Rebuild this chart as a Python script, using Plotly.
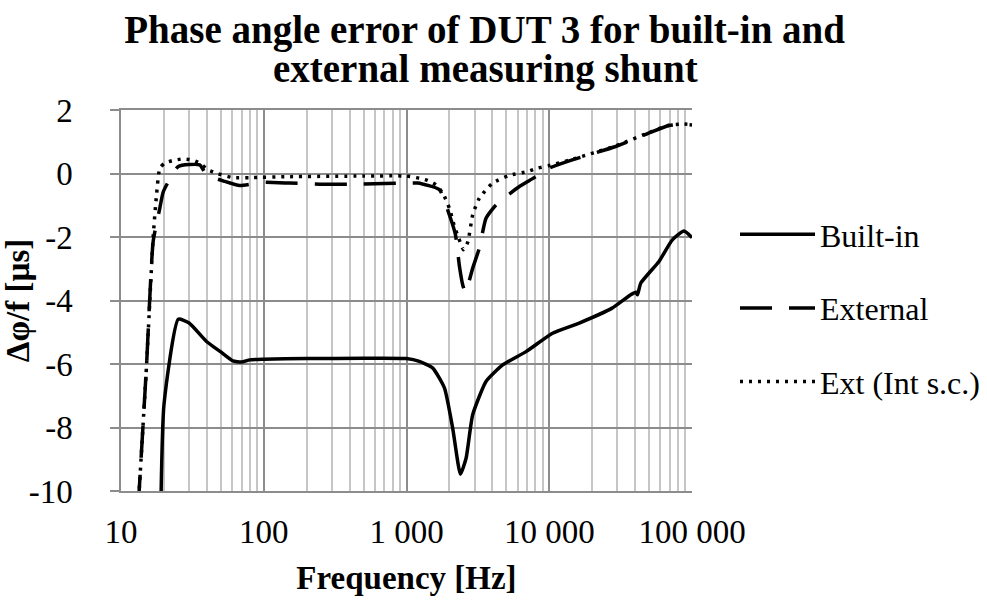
import plotly.graph_objects as go

# ------------------------------------------------------------
# Data
# ------------------------------------------------------------

builtin_f = [19.0, 20, 25.2, 30, 39.7, 50, 60.7, 69.8, 79.8, 98.9, 200, 500,
             1000, 1231, 1528, 1846, 2106, 2386, 2614, 2908, 3606, 4717, 6877,
             10540, 16220, 27560, 37200, 40400, 41460, 43800, 58700, 72800,
             87900, 100000]
builtin_v = [-10.6, -7.28, -4.59, -4.71, -5.29, -5.62, -5.9, -5.94, -5.87, -5.85,
             -5.83, -5.82, -5.83, -5.92, -6.13, -6.76, -8.02, -9.47, -8.97, -7.6,
             -6.55, -6.03, -5.61, -5.03, -4.71, -4.24, -3.82, -3.74, -3.82, -3.45,
             -2.77, -2.09, -1.81, -2.02]

external_f = [13.2, 15.1, 16.8, 18.7, 19.8, 25.2, 35.6, 39.7, 53.4, 67.9, 100,
              151, 260, 500, 1000, 1200, 1702, 1995, 2203, 2350, 2477, 2588,
              2910, 3237, 3606, 4236, 6170, 7850, 10000, 13800, 29200, 52700,
              69000, 85500, 100000]
external_v = [-10.5, -6.03, -2.14, -1.09, -0.57, 0.22, 0.27, -0.04, -0.25, -0.38,
              -0.28, -0.3, -0.34, -0.33, -0.3, -0.3, -0.51, -1.3, -1.93, -2.93,
              -3.51, -3.74, -2.98, -2.35, -1.41, -0.99, -0.41, -0.13, 0.17, 0.4,
              0.85, 1.32, 1.51, 1.55, 1.53]

ext_sc_f = [13.2, 15.1, 16.8, 17.7, 18.7, 20.3, 23.2, 27, 31.2, 35.6, 40.8, 46.6,
            60.7, 79.8, 150, 500, 1000, 1230, 1409, 1613, 1796, 1995, 2167, 2323,
            2505, 2687, 2910, 3237, 4010, 5250, 7050, 8280, 10000, 13800, 29200,
            52700, 69000, 85500, 100000]
ext_sc_v = [-10.5, -6.03, -2.0, -0.72, 0.17, 0.33, 0.41, 0.46, 0.43, 0.33, 0.11,
            0.01, -0.13, -0.13, -0.1, -0.08, -0.08, -0.15, -0.22, -0.36, -0.62,
            -1.09, -1.67, -2.04, -2.4, -2.16, -1.3, -0.78, -0.3, -0.06, 0.06, 0.17,
            0.25, 0.42, 0.87, 1.33, 1.52, 1.56, 1.54]

x_tickvals = [10, 100, 1000, 10000, 100000]
x_ticktext = ["10", "100", "1 000", "10 000", "100 000"]
y_tickvals = [2, 0, -2, -4, -6, -8, -10]
y_ticktext = ["2", "0", "-2", "-4", "-6", "-8", "-10"]

FONT = "Liberation Serif"
MAJOR = "#8c8c8c"
MINOR = "#c6c6c6"

# ------------------------------------------------------------
# Figure
# ------------------------------------------------------------

fig = go.Figure()

fig.add_trace(go.Scatter(
    x=builtin_f, y=builtin_v, name="Built-in", mode="lines",
    legendgroup="a",
    line=dict(color="black", width=3.5, shape="spline", smoothing=0.5),
))
fig.add_trace(go.Scatter(
    x=external_f, y=external_v, name="External", mode="lines",
    legendgroup="b",
    line=dict(color="black", width=3.5, dash="32px,17px", shape="spline", smoothing=0.5),
))
fig.add_trace(go.Scatter(
    x=ext_sc_f, y=ext_sc_v, name="Ext (Int s.c.)", mode="lines",
    legendgroup="c",
    line=dict(color="black", width=3.5, dash="3px,6px", shape="spline", smoothing=0.5),
))

fig.update_xaxes(
    type="log",
    range=[1, 5],
    automargin=False,
    tickvals=x_tickvals,
    ticktext=x_ticktext,
    ticks="",
    showgrid=True,
    gridcolor=MAJOR,
    gridwidth=1.5,
    minor=dict(dtick="D1", showgrid=True, gridcolor=MINOR, gridwidth=1.5, ticks=""),
    showline=True,
    linecolor=MAJOR,
    linewidth=1.5,
    mirror=True,
    zeroline=False,
    tickfont=dict(family=FONT, size=33, color="black"),
    ticklabelstandoff=11,
    title=dict(text="<b>Frequency [Hz]</b>", font=dict(family=FONT, size=33, color="black"),
               standoff=17),
)

fig.update_yaxes(
    range=[-10, 2],
    automargin=False,
    tickvals=y_tickvals,
    ticktext=y_ticktext,
    ticks="outside",
    ticklen=9,
    tickcolor=MAJOR,
    tickwidth=1.5,
    showgrid=True,
    gridcolor=MAJOR,
    gridwidth=1.5,
    showline=True,
    linecolor=MAJOR,
    linewidth=1.5,
    zeroline=False,
    tickfont=dict(family=FONT, size=33, color="black"),
    ticklabelstandoff=31,
    title=dict(text="<b>Δφ/f [µs]</b>", font=dict(family=FONT, size=33, color="black"),
               standoff=21),
)

fig.update_layout(
    width=987,
    height=603,
    paper_bgcolor="white",
    plot_bgcolor="white",
    margin=dict(l=121, r=295, t=110, b=112),
    title=dict(
        text="<b>Phase angle error of DUT 3 for built-in and</b>",
        x=0.491, xanchor="center", y=1 - 29 / 603, yanchor="middle",
        font=dict(family=FONT, size=39, color="black"),
    ),
    annotations=[dict(
        text="<b>external measuring shunt</b>",
        xref="paper", yref="paper", x=(485 - 121) / 571, y=(491 - 69) / 381,
        xanchor="center", yanchor="middle", showarrow=False,
        font=dict(family=FONT, size=39, color="black"),
    )],
    legend=dict(
        xref="container", yref="container",
        x=735 / 987, xanchor="left", y=1 - 207 / 603, yanchor="top",
        font=dict(family=FONT, size=32, color="black"),
        tracegroupgap=29,
        traceorder="grouped",
        itemwidth=75,
        bgcolor="rgba(0,0,0,0)",
    ),
)

# drop the page's default body margin so the figure sits at the window's corner
fig.write_html(
    "out.html",
    config={"displayModeBar": False},
    post_script="document.body.style.margin='0';",
)
